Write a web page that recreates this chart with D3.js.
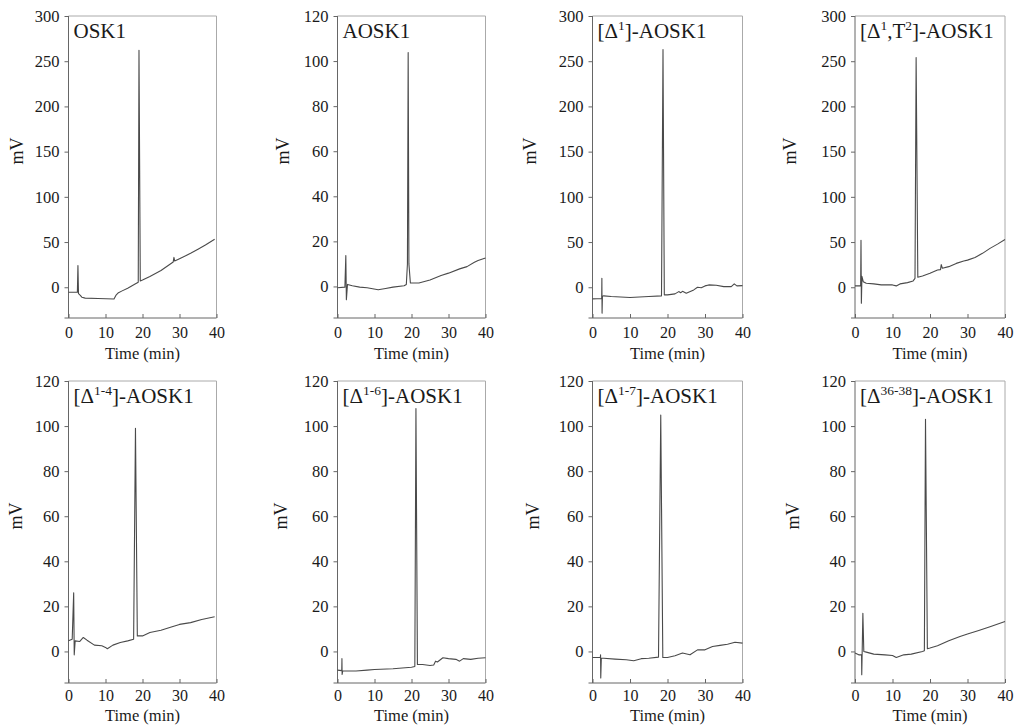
<!DOCTYPE html>
<html><head><meta charset="utf-8">
<script src="https://cdn.jsdelivr.net/npm/d3@7"></script>
<style>
body{margin:0;background:#fff}
text{font-family:"Liberation Serif","Times New Roman",serif;fill:#1a1a1a}
</style>
</head><body>
<svg id="c" width="1018" height="728"></svg>
<script>
// ---------- data ----------
const timeTicks = [0, 10, 20, 30, 40];
const ticks300 = [0, 50, 100, 150, 200, 250, 300];
const ticks120 = [0, 20, 40, 60, 80, 100, 120];
const yDom300 = [-34, 300];
const yDom120 = [-14, 120];

// title parts: [text, isSuperscript]
const titles = [
  [["OSK1", 0]],
  [["AOSK1", 0]],
  [["[Δ", 0], ["1", 1], ["]-AOSK1", 0]],
  [["[Δ", 0], ["1", 1], [",T", 0], ["2", 1], ["]-AOSK1", 0]],
  [["[Δ", 0], ["1-4", 1], ["]-AOSK1", 0]],
  [["[Δ", 0], ["1-6", 1], ["]-AOSK1", 0]],
  [["[Δ", 0], ["1-7", 1], ["]-AOSK1", 0]],
  [["[Δ", 0], ["36-38", 1], ["]-AOSK1", 0]]
];

// traces: [time (min), signal (mV)]
const osk1 = [[0,-5.5],[2.4,-5.5],[2.55,24],[2.7,-7],[3.2,-9],[3.6,-11],[4.5,-12],[8,-12.5],[12.3,-13],[12.8,-9],[13.5,-6],[14.5,-4],[16,-1],[18,3.5],[18.85,5.5],[19.05,262],[19.4,7],[20,8],[22,12],[25,18.5],[28.3,28],[28.5,33],[28.7,29],[30,31.5],[33,37.5],[35,42],[37,46.7],[39.5,53]];
const aosk1 = [[0,-0.6],[2,-0.3],[2.25,13.7],[2.4,-5.9],[2.7,0.9],[4,0.3],[6,-0.3],[8,-0.6],[11,-1.5],[13,-0.9],[15,-0.3],[18,0.3],[18.6,0.9],[18.9,10],[19.1,103.8],[19.3,10],[19.7,1.5],[22,1.5],[25,2.9],[28,4.9],[30,5.9],[33,7.8],[35,8.8],[37,10.7],[38,11.5],[40,12.6]];
const d1 = [[0,-12.9],[2.45,-12.5],[2.5,10],[2.55,-28.6],[2.65,-10],[3,-9.5],[5,-10.3],[10,-11.4],[15,-10.3],[18.4,-9.5],[18.8,263],[19.15,-8.4],[20,-8.4],[22,-7.3],[23,-4.8],[23.5,-6],[24,-4.5],[25,-6.6],[27,-2.9],[28,0],[29,-0.5],[30,1.5],[31,2.6],[33,2.2],[35,0.7],[37,0.7],[37.8,3.7],[38.5,1.5],[40,1.8]];
const d1t2 = [[0,1.5],[1.5,1.5],[1.6,52],[1.7,-17.6],[1.85,12],[2.2,6.2],[3,4.4],[5,3.7],[7,2.6],[10,2.6],[11,1.5],[12,3.7],[14,5.1],[15.5,7],[16,9.9],[16.3,254],[16.75,11],[18,12.5],[20,15.4],[22,19],[22.8,19.5],[23,25],[23.3,21],[25,22.8],[27,26.4],[29,29],[30,30],[32,33],[34,37.5],[36,43],[38,47.7],[40,52.9]];
const d14 = [[0,4.7],[1,5.4],[1.4,26],[1.55,-1.5],[1.8,4.7],[3,4.4],[4,6.2],[5,5],[7,2.8],[9,2.5],[10,1.8],[10.5,1.2],[12,2.8],[14,4],[16,4.7],[17.6,5.4],[18.1,99],[18.6,6.9],[20,6.9],[22,8.4],[25,9.4],[28,11],[30,12],[33,12.8],[36,14.2],[39.5,15.4]];
const d16 = [[0,-8.3],[1.15,-8.5],[1.2,-3.2],[1.25,-10.2],[1.4,-8.7],[5,-8.7],[8,-8.3],[10,-8],[15,-7.7],[20,-7],[20.9,-6.7],[21.2,107.8],[21.6,-5.8],[23,-5.8],[25,-6.2],[26,-6],[26.5,-4.3],[27,-4.7],[28.5,-2.8],[30,-3.2],[32,-3.5],[33,-4.3],[34,-3.2],[36,-3.5],[38,-3],[40,-2.8]];
const d17 = [[0,-2.7],[2.1,-2.7],[2.15,-1.5],[2.2,-11.8],[2.35,-3],[3,-3],[6,-3.4],[9,-3.7],[11,-4.1],[13,-3.2],[15,-3],[17.6,-2.5],[18.2,104.9],[18.75,-2.7],[20,-2.7],[22,-1.9],[24,-0.7],[26,-1.5],[28,0.7],[30,0.7],[32,2.2],[34,2.7],[36,3.2],[38,4.1],[40,3.7]];
const d3638 = [[0,-0.7],[1,-1.5],[1.75,-1.5],[1.8,-10.3],[2.1,16.9],[2.35,0],[3,-0.3],[5,-1.2],[8,-1.5],[10,-1.8],[11,-2.7],[13,-1.5],[15,-1.2],[18,0],[18.5,0.3],[18.8,103],[19.3,1.2],[20,1.5],[22,2.5],[25,4.7],[28,6.6],[30,7.7],[33,9.3],[36,11],[40,13.3]];

const traces = [osk1, aosk1, d1, d1t2, d14, d16, d17, d3638];
const scaleKind = [300, 120, 300, 300, 120, 120, 120, 120];

// ---------- layout ----------
const colLeft = [68.5, 337.5, 592.5, 855];
const colW = [148, 148, 150, 150];
const rowTop = [16, 381];
const plotH = 302;
const mvOff = [[51, 54, 62, 64], [52, 56, 59, 61]];
const xTitleOff = [41, 38];
const xTickPad = [9, 7];

const svg = d3.select("#c");
const axisCol = "#666", frameCol = "#aaa", lineCol = "#4a4a4a";

traces.forEach((data, i) => {
  const r = Math.floor(i / 4), c = i % 4;
  const L = colLeft[c], T = rowTop[r], W = colW[c], H = plotH;
  const big = scaleKind[i] === 300;
  const x = d3.scaleLinear().domain([0, 40]).range([L, L + W]);
  const y = d3.scaleLinear().domain(big ? yDom300 : yDom120).range([T + H, T]);
  const g = svg.append("g");

  // frame top / right
  g.append("line").attr("x1", L).attr("y1", T).attr("x2", L + W).attr("y2", T)
    .attr("stroke", frameCol).attr("stroke-width", 1);
  g.append("line").attr("x1", L + W).attr("y1", T).attr("x2", L + W).attr("y2", T + H)
    .attr("stroke", frameCol).attr("stroke-width", 1);

  // y axis
  const ya = g.append("g").attr("transform", `translate(${L},0)`)
    .call(d3.axisLeft(y).tickValues(big ? ticks300 : ticks120).tickSize(4).tickPadding(5).tickSizeOuter(0));
  ya.select(".domain").remove();
  ya.selectAll(".tick line").attr("stroke", axisCol);
  ya.selectAll(".tick text").attr("font-size", 16.5).attr("fill", "#1a1a1a");
  g.append("line").attr("x1", L).attr("y1", T).attr("x2", L).attr("y2", T + H)
    .attr("stroke", axisCol).attr("stroke-width", 1);

  // x axis
  const xa = g.append("g").attr("transform", `translate(0,${T + H})`)
    .call(d3.axisBottom(x).tickValues(timeTicks).tickSizeInner(-4).tickSizeOuter(0).tickPadding(xTickPad[r]));
  xa.select(".domain").remove();
  xa.selectAll(".tick line").attr("stroke", axisCol);
  xa.selectAll(".tick text").attr("font-size", 16).attr("fill", "#1a1a1a");
  g.append("line").attr("x1", L - 4).attr("y1", T + H).attr("x2", L + W).attr("y2", T + H)
    .attr("stroke", axisCol).attr("stroke-width", 1);

  // axis titles
  g.append("text").attr("x", (L + L + W) / 2).attr("y", T + H + xTitleOff[r])
    .attr("text-anchor", "middle").attr("font-size", 16.5).text("Time (min)");
  g.append("text").attr("transform", `translate(${L - mvOff[r][c] + 5},${T + 135}) rotate(-90)`)
    .attr("text-anchor", "middle").attr("font-size", 18).text("mV");

  // trace
  const line = d3.line().x(d => x(d[0])).y(d => y(d[1]));
  g.append("path").datum(data).attr("d", line)
    .attr("fill", "none").attr("stroke", lineCol).attr("stroke-width", 1.1)
    .attr("stroke-linejoin", "round");

  // panel title
  const t = g.append("text").attr("x", L + 5).attr("y", T + 22).attr("font-size", 21);
  titles[i].forEach(([s, sup], k) => {
    const ts = t.append("tspan").text(s);
    if (sup) ts.attr("font-size", 13.5).attr("dy", -8);
    else if (k > 0 && titles[i][k - 1][1]) ts.attr("dy", 8);
  });
});
</script>
</body></html>
